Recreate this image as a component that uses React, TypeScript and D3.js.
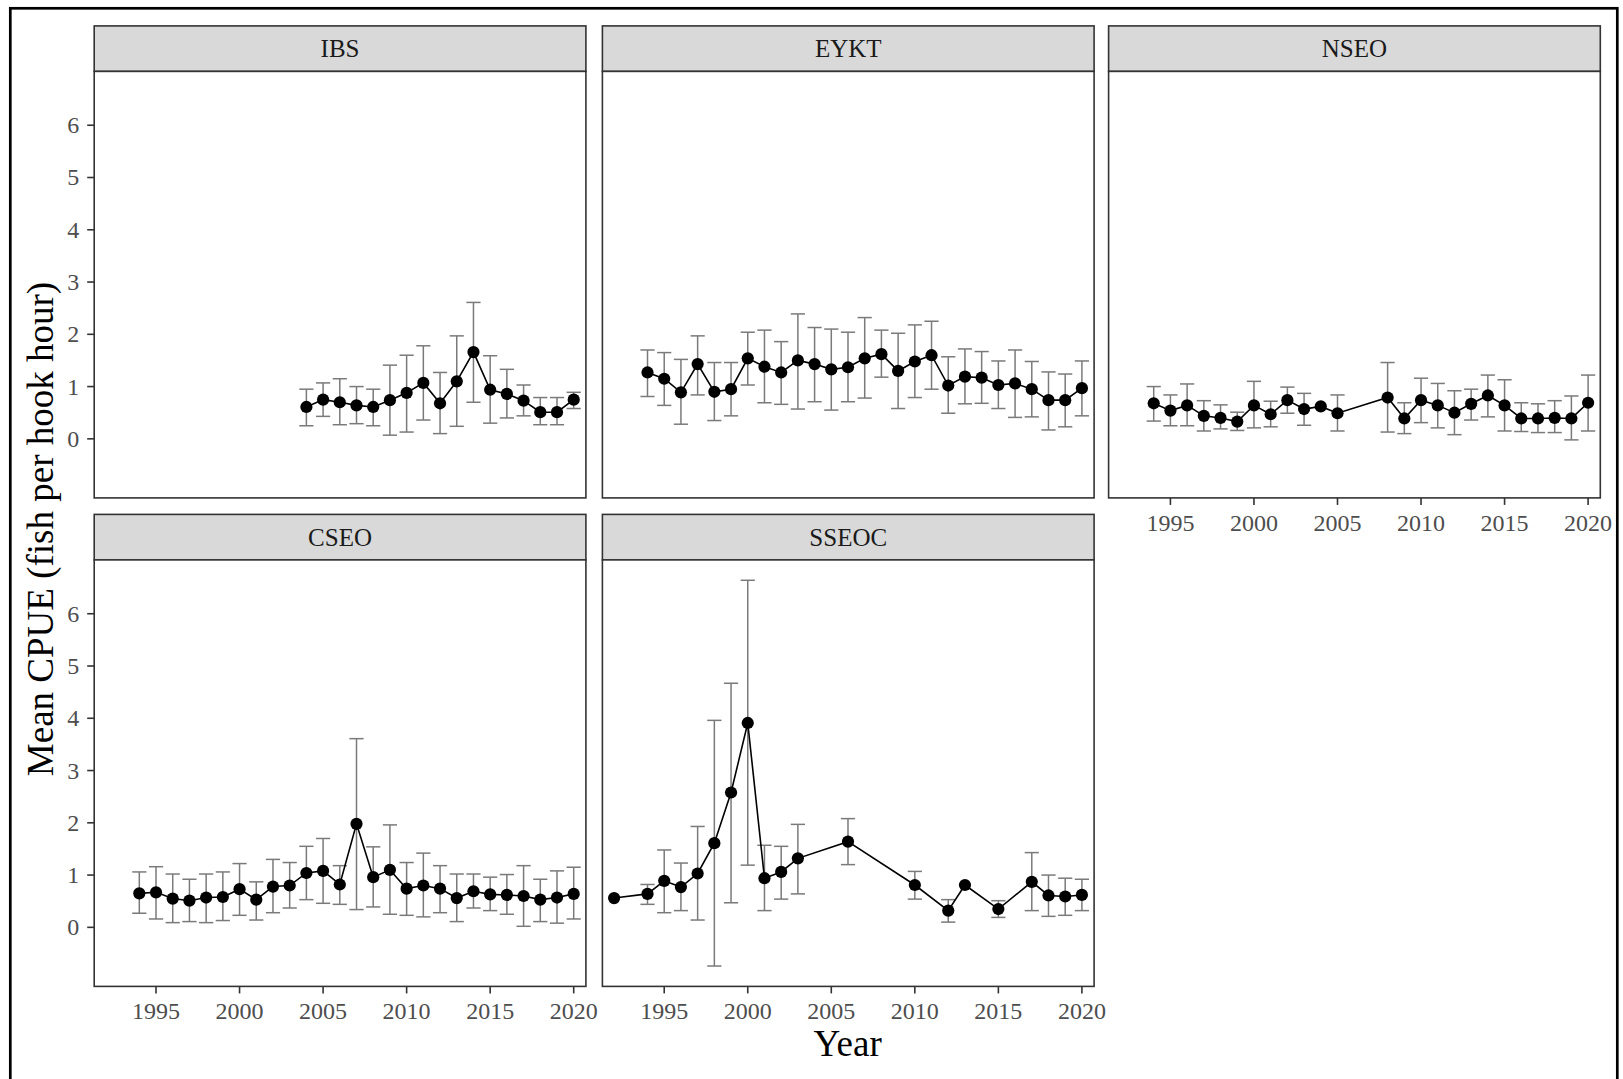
import React from "react";
import * as d3 from "d3";

// ---------- DATA ----------
const yearsIBS = [2004, 2005, 2006, 2007, 2008, 2009, 2010, 2011, 2012, 2013, 2014, 2015, 2016, 2017, 2018, 2019, 2020];
const meanIBS = [0.61, 0.75, 0.70, 0.64, 0.61, 0.74, 0.88, 1.07, 0.68, 1.10, 1.66, 0.94, 0.86, 0.73, 0.51, 0.51, 0.75];
const loIBS = [0.25, 0.43, 0.27, 0.29, 0.25, 0.07, 0.13, 0.36, 0.10, 0.24, 0.70, 0.30, 0.40, 0.44, 0.27, 0.27, 0.58];
const hiIBS = [0.95, 1.07, 1.15, 1.00, 0.95, 1.41, 1.60, 1.78, 1.27, 1.97, 2.61, 1.59, 1.33, 1.03, 0.79, 0.79, 0.89];

const yearsEYKT = [1994, 1995, 1996, 1997, 1998, 1999, 2000, 2001, 2002, 2003, 2004, 2005, 2006, 2007, 2008, 2009, 2010, 2011, 2012, 2013, 2014, 2015, 2016, 2017, 2018, 2019, 2020];
const meanEYKT = [1.27, 1.15, 0.89, 1.43, 0.90, 0.95, 1.54, 1.38, 1.27, 1.50, 1.43, 1.33, 1.37, 1.54, 1.62, 1.30, 1.48, 1.60, 1.02, 1.19, 1.17, 1.03, 1.06, 0.95, 0.74, 0.74, 0.97];
const loEYKT = [0.81, 0.64, 0.28, 0.84, 0.35, 0.44, 1.03, 0.69, 0.66, 0.57, 0.71, 0.55, 0.71, 0.78, 1.18, 0.58, 0.79, 0.95, 0.49, 0.67, 0.68, 0.58, 0.41, 0.42, 0.17, 0.23, 0.44];
const hiEYKT = [1.70, 1.65, 1.52, 1.97, 1.46, 1.46, 2.04, 2.08, 1.86, 2.39, 2.13, 2.10, 2.04, 2.32, 2.08, 2.02, 2.18, 2.25, 1.57, 1.72, 1.67, 1.49, 1.70, 1.48, 1.28, 1.24, 1.49];

const yearsNSEO = [1994, 1995, 1996, 1997, 1998, 1999, 2000, 2001, 2002, 2003, 2004, 2005, 2008, 2009, 2010, 2011, 2012, 2013, 2014, 2015, 2016, 2017, 2018, 2019, 2020];
const meanNSEO = [0.68, 0.54, 0.64, 0.44, 0.40, 0.33, 0.64, 0.47, 0.74, 0.57, 0.62, 0.49, 0.79, 0.39, 0.74, 0.64, 0.50, 0.67, 0.83, 0.64, 0.39, 0.39, 0.40, 0.39, 0.69];
const loNSEO = [0.34, 0.25, 0.25, 0.15, 0.19, 0.16, 0.21, 0.23, 0.49, 0.26, NaN, 0.15, 0.13, 0.10, 0.31, 0.21, 0.08, 0.36, 0.42, 0.15, 0.14, 0.12, 0.12, -0.02, 0.15];
const hiNSEO = [1.00, 0.84, 1.05, 0.73, 0.65, 0.51, 1.10, 0.72, 0.99, 0.87, NaN, 0.84, 1.46, 0.69, 1.16, 1.06, 0.92, 0.95, 1.22, 1.13, 0.69, 0.67, 0.73, 0.82, 1.22];

const yearsCSEO = [1994, 1995, 1996, 1997, 1998, 1999, 2000, 2001, 2002, 2003, 2004, 2005, 2006, 2007, 2008, 2009, 2010, 2011, 2012, 2013, 2014, 2015, 2016, 2017, 2018, 2019, 2020];
const meanCSEO = [0.65, 0.67, 0.55, 0.51, 0.57, 0.58, 0.73, 0.53, 0.78, 0.80, 1.04, 1.08, 0.82, 1.98, 0.96, 1.10, 0.74, 0.80, 0.74, 0.56, 0.69, 0.63, 0.62, 0.60, 0.53, 0.57, 0.64];
const loCSEO = [0.27, 0.16, 0.09, 0.11, 0.09, 0.13, 0.23, 0.14, 0.28, 0.37, 0.53, 0.46, 0.44, 0.34, 0.39, 0.25, 0.23, 0.20, 0.28, 0.11, 0.37, 0.32, 0.25, 0.02, 0.11, 0.08, 0.16];
const hiCSEO = [1.06, 1.16, 1.02, 0.92, 1.02, 1.06, 1.22, 0.87, 1.30, 1.24, 1.55, 1.70, 1.18, 3.61, 1.54, 1.96, 1.24, 1.42, 1.18, 1.02, 1.02, 0.96, 1.01, 1.18, 0.92, 1.08, 1.15];

const yearsSSEOC = [1992, 1994, 1995, 1996, 1997, 1998, 1999, 2000, 2001, 2002, 2003, 2006, 2010, 2012, 2013, 2015, 2017, 2018, 2019, 2020];
const meanSSEOC = [0.56, 0.64, 0.89, 0.77, 1.03, 1.61, 2.58, 3.91, 0.94, 1.06, 1.32, 1.64, 0.81, 0.32, 0.81, 0.35, 0.87, 0.61, 0.59, 0.62];
const loSSEOC = [NaN, 0.44, 0.28, 0.32, 0.14, -0.74, 0.47, 1.19, 0.32, 0.54, 0.64, 1.20, 0.54, 0.10, NaN, 0.19, 0.32, 0.21, 0.23, 0.32];
const hiSSEOC = [NaN, 0.82, 1.48, 1.23, 1.93, 3.96, 4.67, 6.64, 1.57, 1.55, 1.97, 2.08, 1.07, 0.53, NaN, 0.51, 1.43, 1.00, 0.94, 0.92];

const xTicks = [1995, 2000, 2005, 2010, 2015, 2020];
const yTicks = [0, 1, 2, 3, 4, 5, 6];
const xDomain = [1991.3, 2020.73];
const yDomain = [-1.13, 7.03];

const panelNames = ["IBS", "EYKT", "NSEO", "CSEO", "SSEOC"];
const panelYears = [yearsIBS, yearsEYKT, yearsNSEO, yearsCSEO, yearsSSEOC];
const panelMeans = [meanIBS, meanEYKT, meanNSEO, meanCSEO, meanSSEOC];
const panelLo = [loIBS, loEYKT, loNSEO, loCSEO, loSSEOC];
const panelHi = [hiIBS, hiEYKT, hiNSEO, hiCSEO, hiSSEOC];

// ---------- LAYOUT ----------
const WIDTH = 1623;
const HEIGHT = 1079;
const PW = 491.7;
const PH = 426.5;
const STRIP_H = 45.5;
const COL_X = [94.2, 602.4, 1108.6];
const ROW_Y = [25.9, 514.4];
const FONT = "'Liberation Serif', 'Times New Roman', serif";
const CAP = 0.425;

type Pt = { year: number; mean: number; lo: number; hi: number };

function Panel({ idx }: { idx: number }) {
  const col = idx % 3;
  const row = Math.floor(idx / 3);
  const showX = row === 1 || col === 2;
  const showY = col === 0;
  const x = d3.scaleLinear().domain(xDomain).range([0, PW]);
  const y = d3.scaleLinear().domain(yDomain).range([STRIP_H + PH, STRIP_H]);
  const pts: Pt[] = panelYears[idx].map((yr, i) => ({
    year: yr,
    mean: panelMeans[idx][i],
    lo: panelLo[idx][i],
    hi: panelHi[idx][i],
  }));
  const line = d3
    .line<Pt>()
    .x((d) => x(d.year))
    .y((d) => y(d.mean));
  return (
    <g transform={`translate(${COL_X[col]},${ROW_Y[row]})`}>
      <rect x={0} y={0} width={PW} height={STRIP_H} fill="#D9D9D9" stroke="#333333" strokeWidth={1.6} />
      <text x={PW / 2} y={STRIP_H / 2 + 8.5} textAnchor="middle" fontSize={25} fill="#1A1A1A" fontFamily={FONT}>
        {panelNames[idx]}
      </text>
      <rect x={0} y={STRIP_H} width={PW} height={PH} fill="#FFFFFF" stroke="#333333" strokeWidth={1.6} />
      {pts
        .filter((d) => !isNaN(d.lo) && !isNaN(d.hi))
        .map((d, i) => (
          <g key={"e" + i} stroke="#7A7A7A" strokeWidth={1.5} fill="none">
            <line x1={x(d.year)} x2={x(d.year)} y1={y(d.lo)} y2={y(d.hi)} />
            <line x1={x(d.year - CAP)} x2={x(d.year + CAP)} y1={y(d.lo)} y2={y(d.lo)} />
            <line x1={x(d.year - CAP)} x2={x(d.year + CAP)} y1={y(d.hi)} y2={y(d.hi)} />
          </g>
        ))}
      <path d={line(pts) || ""} fill="none" stroke="#000000" strokeWidth={1.6} />
      {pts.map((d, i) => (
        <circle key={"p" + i} cx={x(d.year)} cy={y(d.mean)} r={6.1} fill="#000000" />
      ))}
      {showY &&
        yTicks.map((t) => (
          <g key={"y" + t}>
            <line x1={-7} x2={0} y1={y(t)} y2={y(t)} stroke="#333333" strokeWidth={1.6} />
            <text x={-15} y={y(t) + 8} textAnchor="end" fontSize={24} fill="#4D4D4D" fontFamily={FONT}>
              {t}
            </text>
          </g>
        ))}
      {showX &&
        xTicks.map((t) => (
          <g key={"x" + t}>
            <line x1={x(t)} x2={x(t)} y1={STRIP_H + PH} y2={STRIP_H + PH + 7} stroke="#333333" strokeWidth={1.6} />
            <text x={x(t)} y={STRIP_H + PH + 33} textAnchor="middle" fontSize={24} fill="#4D4D4D" fontFamily={FONT}>
              {t}
            </text>
          </g>
        ))}
    </g>
  );
}

export default function App() {
  return (
    <svg
      width={WIDTH}
      height={HEIGHT}
      viewBox={`0 0 ${WIDTH} ${HEIGHT}`}
      style={{ position: "absolute", left: 0, top: 0, background: "#FFFFFF" }}
    >
      <rect x={0} y={0} width={WIDTH} height={HEIGHT} fill="#FFFFFF" />
      <rect x={10.3} y={8.3} width={1607} height={1100} fill="none" stroke="#000000" strokeWidth={2.7} />
      {panelNames.map((_, i) => (
        <Panel key={i} idx={i} />
      ))}
      <text x={847.7} y={1056} textAnchor="middle" fontSize={37} fill="#000000" fontFamily={FONT}>
        Year
      </text>
      <text
        transform={`translate(53,529) rotate(-90)`}
        textAnchor="middle"
        fontSize={37}
        fill="#000000"
        fontFamily={FONT}
      >
        Mean CPUE (fish per hook hour)
      </text>
    </svg>
  );
}
